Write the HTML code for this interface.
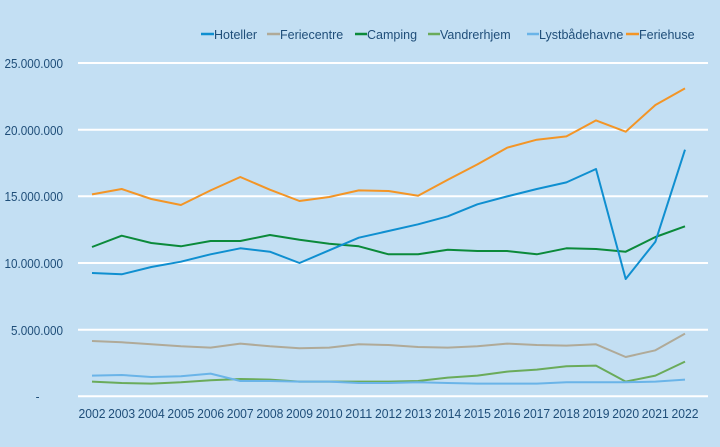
<!DOCTYPE html>
<html><head><meta charset="utf-8"><style>
html,body{margin:0;padding:0;background:#c3dff3;}
svg{display:block;font-family:"Liberation Sans",sans-serif;}
</style></head><body>
<svg id="c" width="720" height="447" viewBox="0 0 720 447">
<rect width="720" height="447" fill="#c3dff3"/>
<g stroke="#ffffff" stroke-width="2">
<line x1="78" x2="708" y1="63" y2="63"/><line x1="78" x2="708" y1="129.7" y2="129.7"/>
<line x1="78" x2="708" y1="196.3" y2="196.3"/><line x1="78" x2="708" y1="263" y2="263"/>
<line x1="78" x2="708" y1="329.7" y2="329.7"/><line x1="78" x2="708" y1="396.3" y2="396.3"/>
</g>
<g fill="#1f4e79" font-size="13" text-anchor="end" transform="scale(0.9,1)">
<text x="70" y="68" >25.000.000</text>
<text x="70" y="135">20.000.000</text>
<text x="70" y="201">15.000.000</text>
<text x="70" y="268">10.000.000</text>
<text x="70" y="335">5.000.000</text>
<text x="44" y="401">-</text>
</g>
<g fill="#1f4e79" font-size="13" text-anchor="middle" id="yrs">
<text x="92" y="418" textLength="27" lengthAdjust="spacingAndGlyphs">2002</text>
<text x="121.6" y="418" textLength="27" lengthAdjust="spacingAndGlyphs">2003</text>
<text x="151.3" y="418" textLength="27" lengthAdjust="spacingAndGlyphs">2004</text>
<text x="180.9" y="418" textLength="27" lengthAdjust="spacingAndGlyphs">2005</text>
<text x="210.6" y="418" textLength="27" lengthAdjust="spacingAndGlyphs">2006</text>
<text x="240.2" y="418" textLength="27" lengthAdjust="spacingAndGlyphs">2007</text>
<text x="269.9" y="418" textLength="27" lengthAdjust="spacingAndGlyphs">2008</text>
<text x="299.5" y="418" textLength="27" lengthAdjust="spacingAndGlyphs">2009</text>
<text x="329.2" y="418" textLength="27" lengthAdjust="spacingAndGlyphs">2010</text>
<text x="358.8" y="418" textLength="27" lengthAdjust="spacingAndGlyphs">2011</text>
<text x="388.5" y="418" textLength="27" lengthAdjust="spacingAndGlyphs">2012</text>
<text x="418.1" y="418" textLength="27" lengthAdjust="spacingAndGlyphs">2013</text>
<text x="447.8" y="418" textLength="27" lengthAdjust="spacingAndGlyphs">2014</text>
<text x="477.4" y="418" textLength="27" lengthAdjust="spacingAndGlyphs">2015</text>
<text x="507.1" y="418" textLength="27" lengthAdjust="spacingAndGlyphs">2016</text>
<text x="536.7" y="418" textLength="27" lengthAdjust="spacingAndGlyphs">2017</text>
<text x="566.4" y="418" textLength="27" lengthAdjust="spacingAndGlyphs">2018</text>
<text x="596.0" y="418" textLength="27" lengthAdjust="spacingAndGlyphs">2019</text>
<text x="625.7" y="418" textLength="27" lengthAdjust="spacingAndGlyphs">2020</text>
<text x="655.3" y="418" textLength="27" lengthAdjust="spacingAndGlyphs">2021</text>
<text x="685" y="418" textLength="27" lengthAdjust="spacingAndGlyphs">2022</text>
</g>
<g font-size="12.5" fill="#1f4e79" stroke-width="2.5">
<line x1="201" x2="214" y1="34" y2="34" stroke="#0f8fd0"/><text x="214" y="39">Hoteller</text>
<line x1="267" x2="280" y1="34" y2="34" stroke="#b0aa98"/><text x="280" y="39">Feriecentre</text>
<line x1="355" x2="367" y1="34" y2="34" stroke="#0b8a3a"/><text x="367" y="39">Camping</text>
<line x1="428" x2="440" y1="34" y2="34" stroke="#6aab5a"/><text x="440" y="39">Vandrerhjem</text>
<line x1="527" x2="539" y1="34" y2="34" stroke="#6ab4e8"/><text x="539" y="39">Lystbådehavne</text>
<line x1="626" x2="639" y1="34" y2="34" stroke="#f39526"/><text x="639" y="39">Feriehuse</text>
</g>
<g id="lines" fill="none" stroke-width="2" stroke-linejoin="round"></g>
</svg>
<script>
var S={
"#b0aa98":[4.15,4.05,3.9,3.75,3.65,3.95,3.75,3.6,3.65,3.9,3.85,3.7,3.65,3.75,3.95,3.85,3.8,3.9,2.95,3.45,4.7],
"#6aab5a":[1.1,1.0,0.95,1.05,1.2,1.3,1.25,1.1,1.1,1.1,1.1,1.15,1.4,1.55,1.85,2.0,2.25,2.3,1.1,1.55,2.6],
"#6ab4e8":[1.55,1.6,1.45,1.5,1.7,1.15,1.15,1.1,1.1,1.0,1.0,1.05,1.0,0.95,0.95,0.95,1.05,1.05,1.05,1.1,1.25],
"#0b8a3a":[11.2,12.05,11.5,11.25,11.65,11.65,12.1,11.75,11.45,11.25,10.65,10.65,11.0,10.9,10.9,10.65,11.1,11.05,10.85,11.95,12.75],
"#0f8fd0":[9.25,9.15,9.7,10.1,10.65,11.1,10.85,10.0,10.95,11.9,12.4,12.9,13.5,14.4,15.0,15.55,16.05,17.05,8.8,11.6,18.5],
"#f39526":[15.15,15.55,14.8,14.35,15.45,16.45,15.5,14.65,14.95,15.45,15.4,15.05,16.25,17.4,18.65,19.25,19.5,20.7,19.85,21.85,23.1]};
var g=document.getElementById("lines"),h="";
for(var c in S){var p=S[c].map(function(v,i){return (92+i*29.65).toFixed(1)+","+(396.3-v*13.33).toFixed(1)}).join(" ");
h+='<polyline stroke="'+c+'" points="'+p+'"/>';}
g.innerHTML=h;
</script>
</body></html>
